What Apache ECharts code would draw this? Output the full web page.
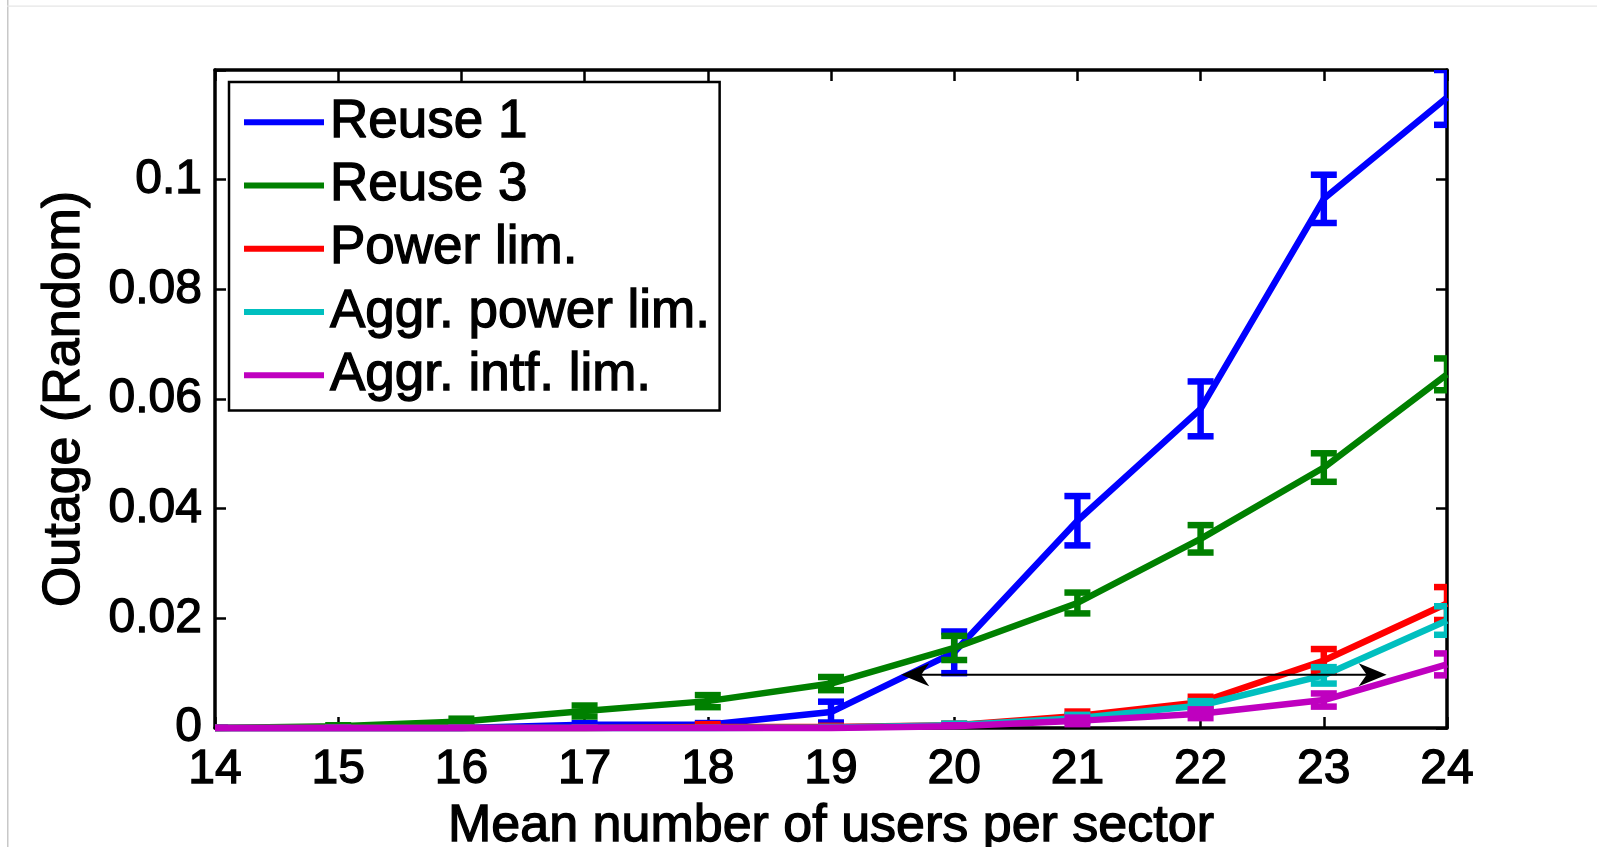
<!DOCTYPE html>
<html>
<head>
<meta charset="utf-8">
<script src="https://cdn.jsdelivr.net/npm/echarts@6/dist/echarts.min.js"></script>
<style>
html,body{margin:0;padding:0;background:#fff;}
#chart{width:1597px;height:847px;}
</style>
</head>
<body>
<div id="chart"></div>
<script>
// ---- data ----
const users = [14, 15, 16, 17, 18, 19, 20, 21, 22, 23, 24];
const reuse1     = [0, 0, 0, 0.0006, 0.0006, 0.0029, 0.0138, 0.0378, 0.0582, 0.0965, 0.1150];
const reuse1Err  = [0, 0, 0, 0.0003, 0.0003, 0.0019, 0.0038, 0.0045, 0.0050, 0.0044, 0.0050];
const reuse3     = [0, 0.0003, 0.0012, 0.0031, 0.0049, 0.0081, 0.0146, 0.0228, 0.0345, 0.0475, 0.0645];
const reuse3Err  = [0, 0.0002, 0.0005, 0.0010, 0.0011, 0.0012, 0.0022, 0.0019, 0.0025, 0.0026, 0.0029];
const powerLim   = [0, 0, 0, 0, 0.0002, 0.0002, 0.0005, 0.0022, 0.0047, 0.0123, 0.0227];
const powerErr   = [0, 0, 0, 0, 0.0005, 0.0002, 0.0003, 0.0008, 0.0010, 0.0021, 0.0030];
const aggrPower  = [0, 0, 0, 0, 0, 0.0001, 0.0005, 0.0018, 0.0041, 0.0096, 0.0196];
const aggrPowErr = [0, 0, 0, 0, 0, 0.0001, 0.0003, 0.0006, 0.0008, 0.0015, 0.0026];
const aggrIntf   = [0, 0, 0, 0, 0, 0, 0.0003, 0.0013, 0.0026, 0.0051, 0.0116];
const aggrIntErr = [0, 0, 0, 0, 0, 0, 0.0002, 0.0006, 0.0008, 0.0012, 0.0020];
const seriesNames = ['Reuse 1', 'Reuse 3', 'Power lim.', 'Aggr. power lim.', 'Aggr. intf. lim.'];
const xTicks = [14, 15, 16, 17, 18, 19, 20, 21, 22, 23, 24];
const yTicks = [0, 0.02, 0.04, 0.06, 0.08, 0.1];
// double arrow annotation: [x1, y1, x2, y2]
const arrow = [19.57, 0.0097, 23.51, 0.0097];

// ---- style ----
const FONT = 'Liberation Sans, Arial, Helvetica, sans-serif';
const colors = ['#0000ff', '#008000', '#ff0000', '#00bfbf', '#bf00bf'];
const LW = 6.5;
const CAP = 13;
const TB = { textBorderColor: '#000', textBorderWidth: 1.3 };

const values = [reuse1, reuse3, powerLim, aggrPower, aggrIntf];
const errs = [reuse1Err, reuse3Err, powerErr, aggrPowErr, aggrIntErr];

function errRender(color) {
  return function (params, api) {
    const x = api.value(0), y = api.value(1), e = api.value(2);
    const top = api.coord([x, y + e]);
    const bot = api.coord([x, y - e]);
    const st = { stroke: color, lineWidth: LW, lineCap: 'butt' };
    return {
      type: 'group',
      children: [
        { type: 'line', shape: { x1: top[0], y1: top[1], x2: bot[0], y2: bot[1] }, style: st },
        { type: 'line', shape: { x1: top[0] - CAP, y1: top[1], x2: top[0] + CAP, y2: top[1] }, style: st },
        { type: 'line', shape: { x1: bot[0] - CAP, y1: bot[1], x2: bot[0] + CAP, y2: bot[1] }, style: st }
      ]
    };
  };
}

const series = [];
values.forEach((vals, i) => {
  series.push({
    name: seriesNames[i],
    type: 'line',
    data: users.map((u, k) => [u, vals[k]]),
    symbol: 'none',
    lineStyle: { color: colors[i], width: LW },
    itemStyle: { color: colors[i] },
    clip: false,
    z: 2 + i,
    animation: false
  });
  series.push({
    name: seriesNames[i] + '_err',
    type: 'custom',
    data: users.map((u, k) => [u, vals[k], errs[i][k]]),
    encode: { x: 0, y: 1 },
    renderItem: errRender(colors[i]),
    clip: true,
    z: 2 + i,
    animation: false
  });
});

series.push({
  name: 'arrow',
  type: 'custom',
  data: [arrow],
  encode: { x: [0, 2], y: [1, 3] },
  z: 20,
  animation: false,
  renderItem: function (params, api) {
    const a = api.coord([api.value(0), api.value(1)]);
    const b = api.coord([api.value(2), api.value(3)]);
    const L = 28, H = 11.5, N = 8;
    return {
      type: 'group',
      children: [
        { type: 'line', shape: { x1: a[0] + 10, y1: a[1], x2: b[0] - 10, y2: b[1] }, style: { stroke: '#000', lineWidth: 2 } },
        { type: 'polygon', shape: { points: [[a[0], a[1]], [a[0] + L, a[1] - H], [a[0] + L - N, a[1]], [a[0] + L, a[1] + H]] }, style: { fill: '#000' } },
        { type: 'polygon', shape: { points: [[b[0], b[1]], [b[0] - L, b[1] - H], [b[0] - L + N, b[1]], [b[0] - L, b[1] + H]] }, style: { fill: '#000' } }
      ]
    };
  }
});

const axisLine = { show: true, onZero: false, lineStyle: { color: '#000', width: 3.5 } };
const axisTick = { show: true, inside: true, length: 11, lineStyle: { color: '#000', width: 2.5 } };

const option = {
  animation: false,
  backgroundColor: '#fff',
  grid: { left: 215, top: 70, right: 150, bottom: 119, containLabel: false, outerBoundsMode: 'none' },
  legend: {
    data: seriesNames,
    orient: 'vertical',
    left: 229,
    top: 82,
    icon: 'rect',
    itemWidth: 80,
    itemHeight: 6,
    itemGap: 9,
    padding: [13, 9, 8, 15],
    backgroundColor: '#fff',
    borderColor: '#000',
    borderWidth: 2.5,
    borderRadius: 0,
    selectedMode: false,
    textStyle: Object.assign({ fontFamily: FONT, fontSize: 53, color: '#000', lineHeight: 53, padding: [0, 0, 0, 1] }, TB)
  },
  xAxis: [
    {
      type: 'value', min: 14, max: 24, interval: 1,
      name: 'Mean number of users per sector',
      nameLocation: 'middle', nameGap: 52,
      nameTextStyle: Object.assign({ fontFamily: FONT, fontSize: 52, color: '#000' }, TB),
      axisLine: axisLine, axisTick: axisTick,
      axisLabel: Object.assign({ fontFamily: FONT, fontSize: 48, color: '#000', margin: 18,
        formatter: v => xTicks.includes(v) ? String(v) : '' }, TB),
      splitLine: { show: false }
    },
    {
      type: 'value', min: 14, max: 24, interval: 1, position: 'top',
      axisLine: axisLine, axisTick: axisTick, axisLabel: { show: false }, splitLine: { show: false }
    }
  ],
  yAxis: [
    {
      type: 'value', min: 0, max: 0.12, interval: 0.02,
      name: 'Outage (Random)',
      nameLocation: 'middle', nameGap: 124,
      nameTextStyle: Object.assign({ fontFamily: FONT, fontSize: 52, color: '#000' }, TB),
      axisLine: axisLine, axisTick: axisTick,
      axisLabel: Object.assign({ fontFamily: FONT, fontSize: 48, color: '#000', margin: 13,
        formatter: v => { const r = parseFloat(v.toFixed(3)); return yTicks.some(t => Math.abs(t - r) < 1e-9) ? String(r) : ''; } }, TB),
      splitLine: { show: false }
    },
    {
      type: 'value', min: 0, max: 0.12, interval: 0.02, position: 'right',
      axisLine: axisLine, axisTick: axisTick, axisLabel: { show: false }, splitLine: { show: false }
    }
  ],
  graphic: [
    { type: 'rect', shape: { x: 7, y: 0, width: 1.5, height: 847 }, style: { fill: '#c8c8c8' }, silent: true },
    { type: 'rect', shape: { x: 7, y: 5.5, width: 1590, height: 1.2 }, style: { fill: '#e6e6e6' }, silent: true }
  ],
  series: series
};

const chart = echarts.init(document.getElementById('chart'), null, { renderer: 'canvas' });
chart.setOption(option);
</script>
</body>
</html>
